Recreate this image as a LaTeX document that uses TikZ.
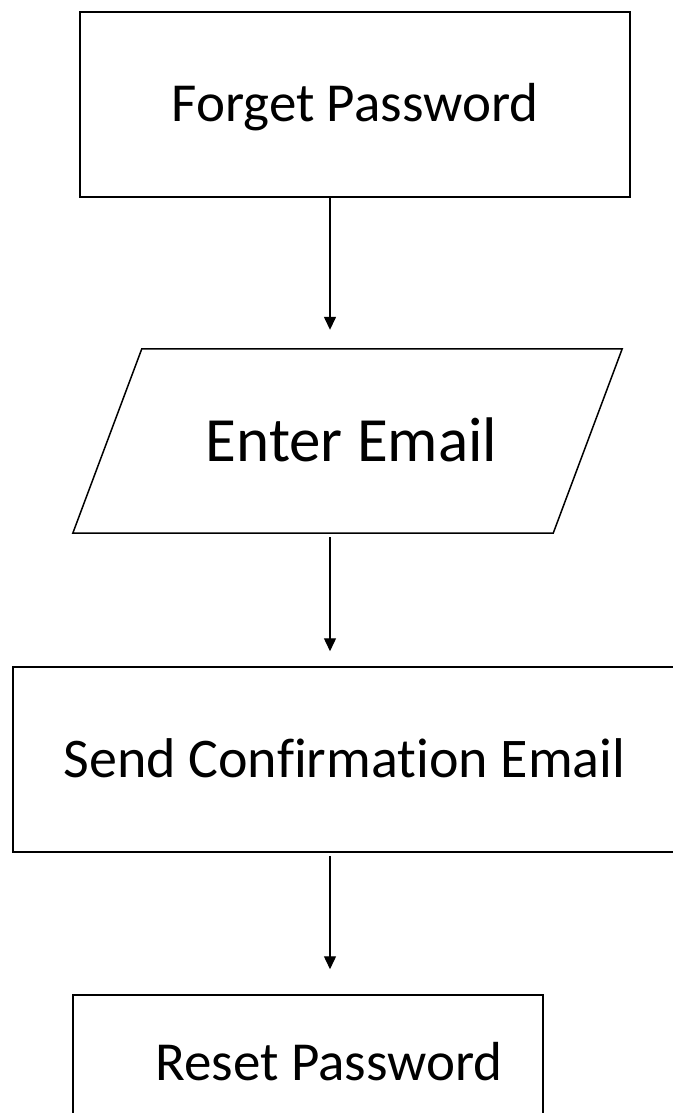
\documentclass[tikz,border=0pt]{standalone}
\usepackage{fontspec}
\setmainfont{Carlito}[Ligatures=NoCommon]
\usetikzlibrary{arrows.meta,calc}
\begin{document}
\begin{tikzpicture}[x=1pt,y=1pt,
  box/.style={draw=black,line width=1.5pt,rectangle,inner sep=0pt,align=center,text depth=0pt},
  conn/.style={line width=1.4pt,-{Triangle[width=12pt,length=13pt]}}]
\useasboundingbox (0,0) rectangle (672,-1113);
\fill[white] (0,0) rectangle (672,-1113);
\coordinate (ax) at (330,0);
% Forget Password
\node[box,minimum width=550pt,minimum height=185pt,text height=35pt,
  font=\fontsize{55}{60}\selectfont] (fp) at (355,-104.5) {Forget Password};
% Enter Email (parallelogram)
\node[inner sep=0pt,minimum width=480pt,minimum height=184pt,text height=40pt,text depth=0pt,
  font=\fontsize{63}{68}\selectfont] (email) at (347.5,-441) {\hspace*{8pt}Enter Email};
\draw[line width=1.5pt,line join=miter]
  ($(email.north west)+(34.5,0)$) -- ($(email.north east)+(34.5,0)$)
  -- ($(email.south east)+(-34.5,0)$) -- ($(email.south west)+(-34.5,0)$) -- cycle;
% Send Confirmation Email
\node[box,minimum width=663pt,minimum height=185pt,text height=36pt,
  font=\fontsize{56}{61}\selectfont] (send) at (344.5,-759.5) {Send Confirmation Email};
% Reset Password
\node[box,minimum width=470pt,minimum height=135pt,text height=35pt,
  font=\fontsize{55}{60}\selectfont] (reset) at (308,-1062.5) {\hspace*{42pt}Reset Password};
% connectors
\draw[conn,shorten >=19pt] (fp.south -| ax) -- (email.north -| ax);
\draw[conn,shorten <=4pt,shorten >=15pt] (email.south -| ax) -- (send.north -| ax);
\draw[conn,shorten <=3pt,shorten >=25pt] (send.south -| ax) -- (reset.north -| ax);
\end{tikzpicture}
\end{document}
